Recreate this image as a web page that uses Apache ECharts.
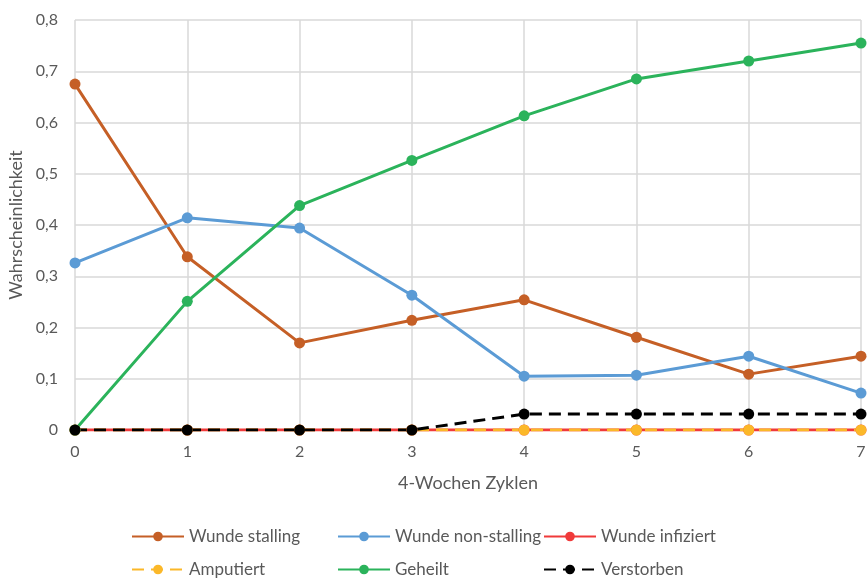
<!DOCTYPE html>
<html>
<head>
<meta charset="utf-8">
<script src="https://cdn.jsdelivr.net/npm/echarts@6/dist/echarts.min.js"></script>
<style>
  html, body { margin: 0; padding: 0; background: #fff; }
  #chart { width: 867px; height: 579px; }
</style>
</head>
<body>
<div id="chart"></div>
<script>
// 4-week cycles on the x axis
const cycles = ['0', '1', '2', '3', '4', '5', '6', '7'];

// State probabilities per cycle
const wundeStalling    = [0.675, 0.338, 0.170, 0.214, 0.254, 0.181, 0.109, 0.144];
const wundeNonStalling = [0.326, 0.414, 0.394, 0.263, 0.105, 0.107, 0.144, 0.072];
const wundeInfiziert   = [0, 0, 0, 0, 0, 0, 0, 0];
const amputiert        = [0, 0, 0, 0, 0, 0, 0, 0];
const geheilt          = [0, 0.251, 0.438, 0.526, 0.613, 0.685, 0.720, 0.755];
const verstorben       = [0, 0, 0, 0, 0.031, 0.031, 0.031, 0.031];

const FONT = 'Lato';
const TEXT = '#595959';
const GRID = '#d9d9d9';

function line(name, data, color, dashed) {
  return {
    name: name,
    type: 'line',
    data: data,
    symbol: 'circle',
    symbolSize: 11,
    itemStyle: { color: color },
    lineStyle: { color: color, width: 3, type: dashed ? [12, 7] : 'solid' },
    emphasis: { disabled: true },
    animation: false
  };
}

// One legend block per entry so the entries sit in fixed columns
function legendAt(name, left, top) {
  return {
    data: [name],
    left: left,
    top: top,
    padding: 0,
    itemWidth: 52,
    itemHeight: 12,
    itemGap: 0,
    textStyle: { fontFamily: FONT, fontSize: 17, color: TEXT },
    selectedMode: false
  };
}

const chart = echarts.init(document.getElementById('chart'));
chart.setOption({
  backgroundColor: '#fff',
  grid: { left: 75, right: 6, top: 20, bottom: 149, outerBoundsMode: 'none' },
  xAxis: {
    type: 'category',
    data: cycles,
    boundaryGap: false,
    name: '4-Wochen Zyklen',
    nameLocation: 'middle',
    nameGap: 44,
    nameTextStyle: { fontFamily: FONT, fontSize: 18, color: TEXT },
    axisLine: { lineStyle: { color: GRID, width: 1.5 } },
    axisTick: { show: false },
    axisLabel: { fontFamily: FONT, fontSize: 16, color: TEXT, margin: 14 },
    splitLine: { show: true, lineStyle: { color: GRID, width: 1.5 } }
  },
  yAxis: {
    type: 'value',
    min: 0,
    max: 0.8,
    interval: 0.1,
    name: 'Wahrscheinlichkeit',
    nameLocation: 'middle',
    nameGap: 49,
    nameTextStyle: { fontFamily: FONT, fontSize: 18, color: TEXT },
    axisLine: { show: false },
    axisTick: { show: false },
    axisLabel: {
      fontFamily: FONT, fontSize: 16, color: TEXT, margin: 17,
      formatter: v => v === 0 ? '0' : v.toFixed(1).replace('.', ',')
    },
    splitLine: { show: true, lineStyle: { color: GRID, width: 1.5 } }
  },
  legend: [
    legendAt('Wunde stalling', 131, 528),
    legendAt('Wunde non-stalling', 337, 528),
    legendAt('Wunde infiziert', 543, 528),
    legendAt('Amputiert', 131, 561),
    legendAt('Geheilt', 337, 561),
    legendAt('Verstorben', 543, 561)
  ],
  series: [
    line('Wunde stalling', wundeStalling, '#c55f26', false),
    line('Wunde non-stalling', wundeNonStalling, '#5b9bd5', false),
    line('Wunde infiziert', wundeInfiziert, '#f03a3a', false),
    line('Amputiert', amputiert, '#fbb829', true),
    line('Geheilt', geheilt, '#2bb35b', false),
    line('Verstorben', verstorben, '#000000', true)
  ]
});
</script>
</body>
</html>
